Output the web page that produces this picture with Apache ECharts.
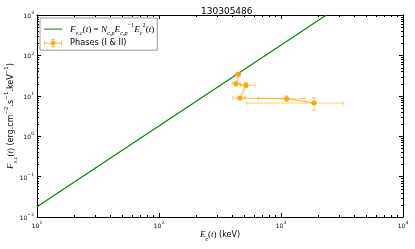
<!DOCTYPE html>
<html><head><meta charset="utf-8">
<script src="https://cdn.jsdelivr.net/npm/echarts@6/dist/echarts.min.js"></script>
<style>html,body{margin:0;padding:0;background:#fff}#c{width:415px;height:249px}</style>
</head><body><div id="c"></div>
<script>
// ---- data ----
const chartTitle = '130305486';
const xTickExps = [1, 2, 3, 4];
const yTickExps = [-2, -1, 0, 1, 2, 3];
const modelE = [10, 2357];
const modelF = [0.018, 1000];
const phaseE   = [447, 427, 516, 461, 1112, 1870];
const phaseF   = [34, 20, 18.2, 8.8, 8.5, 6.6];
const phaseElo = [425, 397, 467, 402, 650, 522];
const phaseEhi = [467, 462, 611, 507, 1570, 3230];
const phaseFlo = [30.3, 17.5, 16.0, 8.3, 7.3, 4.4];
const phaseFhi = [37.4, 21.9, 21.5, 9.3, 10.0, 9.0];

const X_MIN = Math.pow(10, xTickExps[0]), X_MAX = Math.pow(10, xTickExps[xTickExps.length - 1]);
const Y_MIN = Math.pow(10, yTickExps[0]), Y_MAX = Math.pow(10, yTickExps[yTickExps.length - 1]);

function minorVals(lo, hi) { const out = []; for (let k = lo; k < hi; k++) for (let m = 2; m <= 9; m++) out.push(m * Math.pow(10, k)); return out; }
const xMinor = minorVals(xTickExps[0], xTickExps[xTickExps.length - 1]);
const yMinor = minorVals(yTickExps[0], yTickExps[yTickExps.length - 1]);

const SANS = 'DejaVu Sans';
const SERIF = 'Liberation Serif';
function expFmt(v) { const e = Math.round(Math.log10(v)); return '{b|10}{s|' + String(e).replace('-', '\u2212') + '}'; }
const tickRich = {
  b: { fontFamily: SANS, fontSize: 6, color: '#000', lineHeight: 9, verticalAlign: 'bottom' },
  s: { fontFamily: SANS, fontSize: 4.5, color: '#000', lineHeight: 9, verticalAlign: 'top' }
};
function mathRich(fs) {
  return {
    i: { fontFamily: SERIF, fontStyle: 'italic', fontSize: fs + 1, color: '#000', lineHeight: fs + 6, verticalAlign: 'middle' },
    n: { fontFamily: SANS, fontSize: fs, color: '#000', lineHeight: fs + 6, verticalAlign: 'middle' },
    m: { fontFamily: SERIF, fontSize: fs + 1, color: '#000', lineHeight: fs + 6, verticalAlign: 'middle' },
    sb: { fontFamily: SERIF, fontStyle: 'italic', fontSize: fs - 2, color: '#000', lineHeight: fs + 6, verticalAlign: 'bottom' },
    sp: { fontFamily: SERIF, fontSize: fs - 2, color: '#000', lineHeight: fs + 6, verticalAlign: 'top' },
    spn: { fontFamily: SANS, fontSize: fs - 2.5, color: '#000', lineHeight: fs + 6, verticalAlign: 'top' }
  };
}

function L(x1, y1, x2, y2, stroke, w) {
  return { type: 'line', shape: { x1, y1, x2, y2 }, style: { stroke, lineWidth: w || 1 } };
}
const px = v => Math.round(v) + 0.5;

const chart = echarts.init(document.getElementById('c'), null, { renderer: 'canvas' });
const axisCommon = {
  type: 'log', logBase: 10,
  axisLine: { show: true, onZero: false, lineStyle: { color: '#000', width: 1 } },
  axisTick: { show: true, inside: true, length: 4, lineStyle: { color: '#000', width: 1 } },
  splitLine: { show: false }, minorTick: { show: false }
};

chart.setOption({
  animation: false,
  backgroundColor: '#fff',
  title: { text: chartTitle, left: 196, top: 2, textStyle: { fontFamily: SANS, fontSize: 9, fontWeight: 'normal', color: '#000' } },
  grid: { left: 37, right: 12, top: 15, bottom: 32, containLabel: false, outerBoundsMode: 'none' },
  xAxis: [
    Object.assign({}, axisCommon, {
      position: 'bottom', min: X_MIN, max: X_MAX,
      axisLabel: { margin: 3, formatter: expFmt, rich: tickRich },
      name: '{i|E}{sb|c}{m|(}{i|t}{m|)}{n| (keV)}', nameLocation: 'middle', nameGap: 11, nameMoveOverlap: false,
      nameTextStyle: { rich: mathRich(8) }
    }),
    Object.assign({}, axisCommon, { position: 'top', min: X_MIN, max: X_MAX, axisLabel: { show: false } })
  ],
  yAxis: [
    Object.assign({}, axisCommon, {
      position: 'left', min: Y_MIN, max: Y_MAX,
      axisLabel: { margin: 3, formatter: expFmt, rich: tickRich },
      name: '{i|F}{sb|\u03bd,c}{m|(}{i|t}{m|)}{n| (erg.cm}{spn|\u22122}{n|.s}{spn|\u22121}{n|.keV}{spn|\u22121}{n|)}',
      nameLocation: 'middle', nameRotate: 90, nameGap: 19, nameMoveOverlap: false,
      nameTextStyle: { rich: mathRich(8) }
    }),
    Object.assign({}, axisCommon, { position: 'right', min: Y_MIN, max: Y_MAX, axisLabel: { show: false } })
  ],
  legend: {
    left: 40, top: 18, orient: 'vertical',
    backgroundColor: '#fff', borderColor: '#999', borderWidth: 1, borderRadius: 0,
    padding: [4, 3, 3, 4], itemGap: 3, itemWidth: 18, itemHeight: 8,
    data: [
      { name: 'model', icon: 'path://M0,3.5h18v1h-18z', itemStyle: { color: '#008000' } },
      { name: 'phases', icon: 'path://M0,3.6h18v0.8h-18z M0,2h0.8v4h-0.8z M17.2,2h0.8v4h-0.8z M8.6,0h0.8v8h-0.8z M7,0h4v0.8h-4z M7,7.2h4v0.8h-4z M6.6,4a2.4,2.4 0 1,1 4.8,0a2.4,2.4 0 1,1 -4.8,0z', itemStyle: { color: '#FFA500' } }
    ],
    formatter: function (name) {
      if (name === 'model') return '{i|F}{sb|\u03bd,c}{m|(}{i|t}{m|) = }{i|N}{sb|c,p}{i|E}{sb|c,p}{sp|\u22121}{i|E}{sb|c}{sp|2}{m|(}{i|t}{m|)}';
      return '{n|Phases (I & II)}';
    },
    textStyle: { padding: [0, 0, 0, 3], rich: mathRich(8.2) }
  },
  series: [
    {
      name: 'model', type: 'line', xAxisIndex: 0, yAxisIndex: 0,
      data: modelE.map((e, i) => [e, modelF[i]]),
      symbol: 'none', lineStyle: { color: '#008000', width: 1.1 }, itemStyle: { color: '#008000' },
      clip: true, z: 3
    },
    {
      name: 'phases-err', type: 'custom', xAxisIndex: 0, yAxisIndex: 0, z: 4, clip: true,
      data: phaseE.map((e, i) => [e, phaseF[i], phaseElo[i], phaseEhi[i], phaseFlo[i], phaseFhi[i]]),
      encode: { x: 0, y: 1 },
      renderItem: function (params, api) {
        const x = api.value(0), y = api.value(1);
        const pL = api.coord([api.value(2), y]), pR = api.coord([api.value(3), y]);
        const pB = api.coord([x, api.value(4)]), pT = api.coord([x, api.value(5)]);
        const c = 2, col = 'rgba(255,165,0,0.55)';
        return { type: 'group', children: [
          L(pL[0], pL[1], pR[0], pR[1], col), L(pL[0], pL[1] - c, pL[0], pL[1] + c, col), L(pR[0], pR[1] - c, pR[0], pR[1] + c, col),
          L(pB[0], pB[1], pT[0], pT[1], col), L(pB[0] - c, pB[1], pB[0] + c, pB[1], col), L(pT[0] - c, pT[1], pT[0] + c, pT[1], col)
        ] };
      }
    },
    {
      name: 'phases', type: 'line', xAxisIndex: 0, yAxisIndex: 0, z: 5,
      data: phaseE.map((e, i) => [e, phaseF[i]]),
      symbol: 'circle', symbolSize: 5, showSymbol: true,
      itemStyle: { color: '#FFA500', borderWidth: 0 },
      lineStyle: { color: 'rgba(255,165,0,0.7)', width: 1.2 }
    },
    {
      name: 'minor-ticks', type: 'custom', xAxisIndex: 0, yAxisIndex: 0, z: 10, silent: true, clip: false,
      data: [[X_MIN, Y_MIN]], encode: { x: 0, y: 1 },
      renderItem: function (params, api) {
        const bl = api.coord([X_MIN, Y_MIN]), tr = api.coord([X_MAX, Y_MAX]);
        const ch = [];
        xMinor.forEach(v => { const x = px(api.coord([v, Y_MIN])[0]); ch.push(L(x, bl[1], x, bl[1] - 2, '#000'), L(x, tr[1], x, tr[1] + 2, '#000')); });
        yMinor.forEach(v => { const y = px(api.coord([X_MIN, v])[1]); ch.push(L(bl[0], y, bl[0] + 2, y, '#000'), L(tr[0], y, tr[0] - 2, y, '#000')); });
        return { type: 'group', children: ch };
      }
    }
  ]
});
</script></body></html>
